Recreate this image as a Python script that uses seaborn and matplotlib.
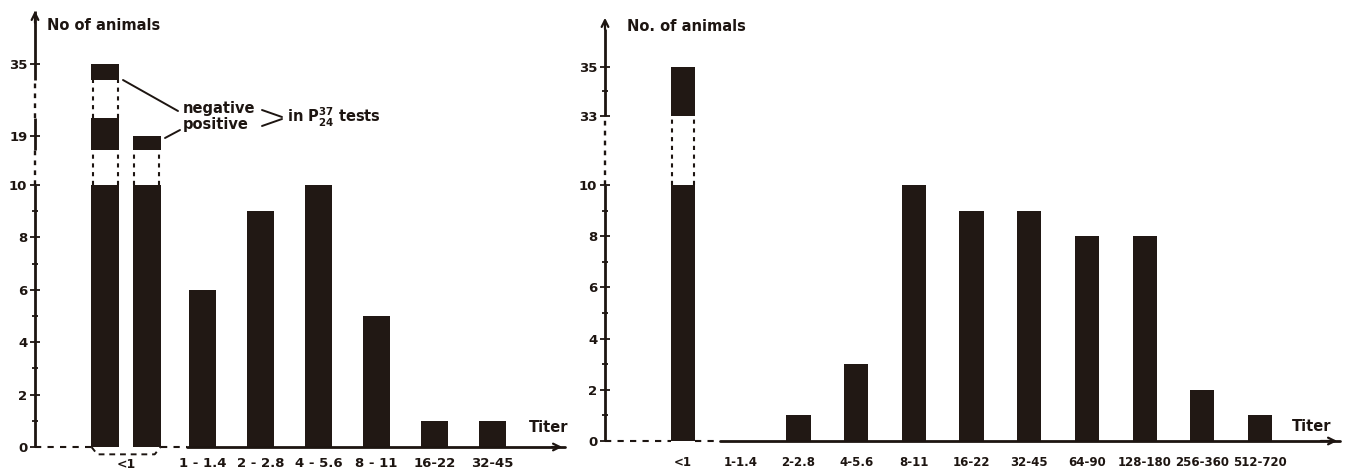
import numpy as np
import pandas as pd
import matplotlib
matplotlib.use("Agg")
import matplotlib.pyplot as plt
import seaborn as sns
from matplotlib.lines import Line2D

# ---------------- data ----------------
left_lt1_groups = ["negative", "positive"]       # titer <1, split by P-37/24 test
left_lt1_counts = [35, 19]
left_titers = ["1 - 1.4", "2 - 2.8", "4 - 5.6", "8 - 11", "16-22", "32-45"]
left_counts = [6, 9, 10, 5, 1, 1]

right_titers = ["<1", "1-1.4", "2-2.8", "4-5.6", "8-11", "16-22", "32-45",
                "64-90", "128-180", "256-360", "512-720"]
right_counts = [35, 0, 1, 3, 10, 9, 9, 8, 8, 2, 1]

left_ytick_major = [0, 2, 4, 6, 8, 10, 19, 35]
left_ytick_minor = [1, 3, 5, 7, 9]
right_ytick_major = [0, 2, 4, 6, 8, 10, 33, 35]
right_ytick_minor = [1, 3, 5, 7, 9, 34]

# axis breaks (value ranges drawn dashed)
left_axis_breaks = [(10, 16.5), (23, 31.5)]
left_bar_breaks = {"negative": [(10, 16.5), (23, 31.5)], "positive": [(10, 16.5)]}
right_axis_breaks = [(10, 33)]
right_bar_breaks = {"<1": [(10, 33)]}

# ---------------- style ----------------
sns.set_theme(style="white")
plt.rcParams["font.family"] = ["DejaVu Sans"]
INK = "#1d1511"
BAR = "#211814"
plt.rcParams["text.color"] = INK

W, H = 1349, 473
fig = plt.figure(figsize=(W / 100, H / 100), dpi=100)
fig.patch.set_facecolor("white")


def px_rect(x0, x1, ytop, ybot):
    return [x0 / W, (H - ybot) / H, (x1 - x0) / W, (ybot - ytop) / H]


def make_scale(kv, kd):
    kv = np.asarray(kv, float)
    kd = np.asarray(kd, float)
    fwd = lambda v: np.interp(v, kv, kd)
    inv = lambda d: np.interp(d, kd, kv)
    return fwd, inv


def draw_axis_lines(ax, ytop, breaks, xstart_dashed_end, bracket=None):
    ytr = ax.get_yaxis_transform()
    # y axis: solid / dashed pieces
    edges = [0]
    for lo, hi in breaks:
        edges += [lo, hi]
    edges.append(ytop)
    for i in range(len(edges) - 1):
        ls = "-" if i % 2 == 0 else (0, (2, 2.2))
        lw = 2.0 if i % 2 == 0 else 1.7
        ax.plot([0, 0], [edges[i], edges[i + 1]], transform=ytr, color=INK,
                lw=lw, ls=ls, clip_on=False, solid_capstyle="butt", zorder=5)
    ax.annotate("", xy=(0, 1.0), xytext=(0, 0.96), xycoords="axes fraction",
                arrowprops=dict(arrowstyle="->", color=INK, lw=1.6,
                                mutation_scale=12))
    # x axis baseline
    x0, x1 = ax.get_xlim()
    xtr = ax.get_xaxis_transform()
    pieces = [(x0, xstart_dashed_end)] if bracket is None else \
        [(x0, bracket[0]), (bracket[1], xstart_dashed_end)]
    for a, b in pieces:
        ax.plot([a, b], [0, 0], transform=xtr, color=INK, lw=1.5,
                ls=(0, (3, 3)), clip_on=False, zorder=5)
    ax.plot([xstart_dashed_end, x1], [0, 0], transform=xtr, color=INK,
            lw=2.0, clip_on=False, zorder=5)
    ax.annotate("", xy=(1.0, 0), xytext=(0.97, 0), xycoords="axes fraction",
                arrowprops=dict(arrowstyle="->", color=INK, lw=1.6,
                                mutation_scale=12))


def draw_bar_break(ax, patch, lo, hi):
    x0 = patch.get_x()
    x1 = x0 + patch.get_width()
    ax.fill_between([x0 - 0.01, x1 + 0.01], lo, hi, color="white", zorder=3,
                    lw=0)
    ax.vlines([x0 + 0.02, x1 - 0.02], lo, hi, colors=INK, lw=1.5,
              linestyles=(0, (2, 2.2)), zorder=4)


def style_ticks(ax, major, minor, xsize, xpad):
    ax.set_yticks(major)
    ax.set_yticklabels([str(v) for v in major])
    ax.set_yticks(minor, minor=True)
    ax.tick_params(axis="y", which="major", direction="inout", length=7,
                   width=1.3, color=INK, labelsize=9.5, pad=2, left=True)
    ax.tick_params(axis="y", which="minor", direction="inout", length=5,
                   width=1.3, color=INK, left=True)
    for lab in ax.get_yticklabels():
        lab.set_fontweight("bold")
        lab.set_color(INK)
    ax.tick_params(axis="x", which="both", length=0, labelsize=xsize,
                   pad=xpad, colors=INK)
    for lab in ax.get_xticklabels():
        lab.set_fontweight("bold")
    for s in ax.spines.values():
        s.set_visible(False)
    ax.set_xlabel("")
    ax.set_ylabel("")
    ax.set_facecolor("white")
    ax.grid(False)


# ================= left panel =================
axL = fig.add_axes(px_rect(35, 565, 8, 447))
pair_off = 0.36
first_pos = 1.32
left_pos = [-pair_off, pair_off] + list(first_pos + np.arange(len(left_titers)))
dfL = pd.DataFrame({"pos": left_pos,
                    "count": left_lt1_counts + left_counts,
                    "key": left_lt1_groups + left_titers})
bar_w_units = 0.47
sns.barplot(data=dfL, x="pos", y="count", native_scale=True, ax=axL,
            color=BAR, saturation=1, errorbar=None,
            width=bar_w_units / (2 * pair_off), linewidth=0)

fwdL, invL = make_scale([-20, 0, 10, 19, 35, 80],
                        [-20, 0, 10, 11.87, 14.62, 14.62 + 45 * 2.75 / 16])
axL.set_yscale("function", functions=(fwdL, invL))
ytopL = float(invL(16.76))
axL.set_ylim(0, ytopL)
axL.set_xlim(-1.569, 7.569)

# match patches to rows
patchesL = {}
for p in axL.patches:
    c = p.get_x() + p.get_width() / 2
    i = int(np.argmin(np.abs(np.array(left_pos) - c)))
    patchesL[dfL["key"][i]] = p
for key, brks in left_bar_breaks.items():
    for lo, hi in brks:
        draw_bar_break(axL, patchesL[key], lo, hi)

tick_pos = [first_pos + i for i in range(len(left_titers))]
axL.set_xticks(tick_pos)
axL.set_xticklabels(left_titers)
style_ticks(axL, left_ytick_major, left_ytick_minor, 9.5, 7)

pn, pp = patchesL["negative"], patchesL["positive"]
bl = pn.get_x()
br = pp.get_x() + pp.get_width()
draw_axis_lines(axL, ytopL * 0.985, left_axis_breaks, 1.05, bracket=(bl, br))
axL.plot([bl, bl + 0.1, br - 0.1, br], [0, -0.28, -0.28, 0], color=INK,
         lw=1.4, ls=(0, (3, 2.5)), clip_on=False, zorder=5)
axL.text(0, -0.68, "<1", ha="center", va="center", fontsize=9,
         fontweight="bold", color=INK, clip_on=False)
axL.text(0.022, 0.961, "No of animals", transform=axL.transAxes, ha="left",
         va="center", fontsize=10.5, fontweight="bold", color=INK)
axL.text(7.28, 0.75, "Titer", ha="center", va="center", fontsize=10.5,
         fontweight="bold", color=INK)

# annotation (figure pixel coordinates of the reference)
def fx(x):
    return x / W


def fy(y):
    return 1 - y / H


fig.text(fx(183), fy(109), "negative", ha="left", va="center", fontsize=10.5,
         fontweight="bold", color=INK)
fig.text(fx(183), fy(125), "positive", ha="left", va="center", fontsize=10.5,
         fontweight="bold", color=INK)
fig.text(fx(287), fy(117), r"in P$^{\mathbf{37}}_{\mathbf{24}}$ tests",
         ha="left", va="center", fontsize=10.5, fontweight="bold", color=INK)
for (xa, ya), (xb, yb) in [((123, 80), (178, 111)), ((165, 138), (180, 130)),
                           ((262, 110), (282, 117)), ((262, 126), (282, 119))]:
    fig.add_artist(Line2D([fx(xa), fx(xb)], [fy(ya), fy(yb)], color=INK,
                          lw=1.4, transform=fig.transFigure))

# ================= right panel =================
axR = fig.add_axes(px_rect(605, 1340, 15, 441))
dfR = pd.DataFrame({"titer": right_titers, "count": right_counts})
sns.barplot(data=dfR, x="titer", y="count", order=right_titers, ax=axR,
            color=BAR, saturation=1, errorbar=None, width=0.42, linewidth=0)
fwdR, invR = make_scale([-20, 0, 10, 33, 35, 80],
                        [-20, 0, 10, 12.70, 14.61, 14.61 + 45 * 0.955])
axR.set_yscale("function", functions=(fwdR, invR))
ytopR = float(invR(16.64))
axR.set_ylim(0, ytopR)
axR.set_xlim(-1.352, 11.386)
for key, brks in right_bar_breaks.items():
    p = axR.patches[right_titers.index(key)]
    for lo, hi in brks:
        draw_bar_break(axR, p, lo, hi)
style_ticks(axR, right_ytick_major, right_ytick_minor, 8.5, 11)
p0 = axR.patches[0]
draw_axis_lines(axR, ytopR * 0.985, right_axis_breaks, 0.64,
                bracket=(p0.get_x(), p0.get_x() + p0.get_width()))
axR.text(0.03, 0.974, "No. of animals", transform=axR.transAxes, ha="left",
         va="center", fontsize=10.5, fontweight="bold", color=INK)
axR.text(10.9, 0.55, "Titer", ha="center", va="center", fontsize=10.5,
         fontweight="bold", color=INK)

fig.savefig("out.png", dpi=100, facecolor="white")
